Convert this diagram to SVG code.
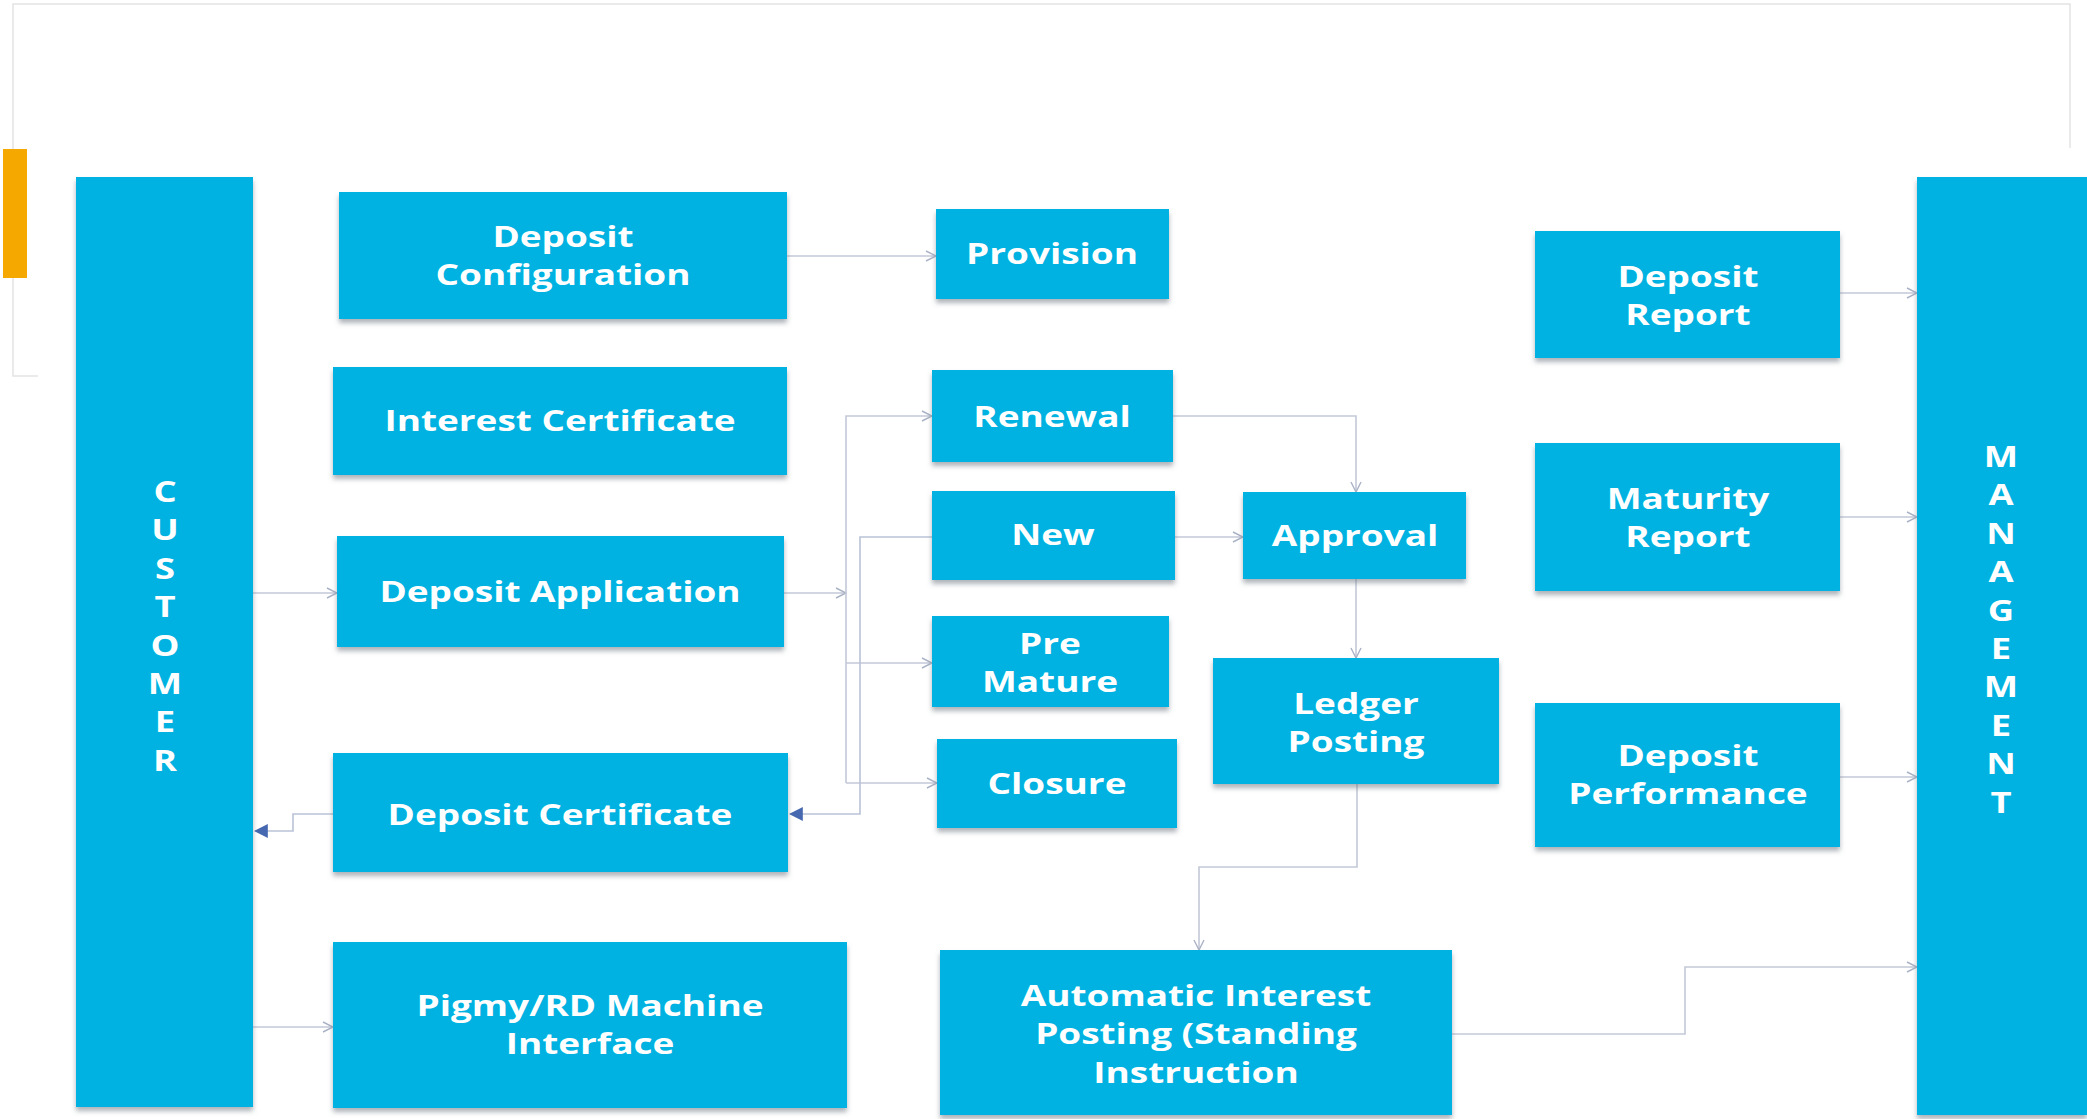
<svg xmlns="http://www.w3.org/2000/svg" width="2087" height="1119" viewBox="0 0 2087 1119">
<style>
.box{fill:#00B2E1;filter:url(#sh)}
.t{font-family:"Open Sans","Noto Sans","Liberation Sans",sans-serif;font-weight:700;font-size:28px;fill:#ffffff;text-anchor:middle}
.v{font-family:"Open Sans","Noto Sans","Liberation Sans",sans-serif;font-weight:700;font-size:28px;fill:#ffffff;text-anchor:middle}
.c{fill:none;stroke:#c3c9d8;stroke-width:1.6}
.cb{fill:none;stroke:#b9c2d6;stroke-width:1.6}
.frame{fill:none;stroke:#e3e3e3;stroke-width:1.5}
</style>
<defs>
<filter id="sh" x="-5%" y="-5%" width="110%" height="120%">
<feDropShadow dx="0" dy="4" stdDeviation="2.5" flood-color="#6d7480" flood-opacity="0.55"/>
</filter>
<marker id="oa" viewBox="0 0 12 12" refX="11" refY="6" markerWidth="12" markerHeight="12" markerUnits="userSpaceOnUse" orient="auto">
<path d="M1,1 L11,6 L1,11" fill="none" stroke="#aab2c6" stroke-width="1.4"/>
</marker>
<marker id="fa" viewBox="0 0 12 12" refX="11" refY="6" markerWidth="14" markerHeight="14" markerUnits="userSpaceOnUse" orient="auto">
<path d="M0,0 L12,6 L0,12 Z" fill="#4668b0"/>
</marker>
</defs>
<rect width="2087" height="1119" fill="#ffffff"/>
<g id="frame">
<path class="frame" d="M38,376 L13,376 L13,4 L2070,4 L2070,148"/>
<rect x="3" y="149" width="24" height="129" fill="#F5A800"/>
</g>
<g id="connectors">
<path class="c" d="M787,256 L936,256" marker-end="url(#oa)"/>
<path class="c" d="M253,593 L337,593" marker-end="url(#oa)"/>
<path class="c" d="M784,593 L846,593" marker-end="url(#oa)"/>
<path class="c" d="M846,783 L846,416 L932,416" marker-end="url(#oa)"/>
<path class="c" d="M846,663 L932,663" marker-end="url(#oa)"/>
<path class="c" d="M846,783 L937,783" marker-end="url(#oa)"/>
<path class="cb" d="M932,537 L860,537 L860,814 L790,814" marker-end="url(#fa)"/>
<path class="cb" d="M333,814 L293,814 L293,831 L255,831" marker-end="url(#fa)"/>
<path class="c" d="M253,1027 L333,1027" marker-end="url(#oa)"/>
<path class="c" d="M1173,416 L1356,416 L1356,492" marker-end="url(#oa)"/>
<path class="c" d="M1175,537 L1243,537" marker-end="url(#oa)"/>
<path class="c" d="M1356,579 L1356,658" marker-end="url(#oa)"/>
<path class="c" d="M1357,784 L1357,867 L1199,867 L1199,950" marker-end="url(#oa)"/>
<path class="c" d="M1452,1034 L1685,1034 L1685,967 L1917,967" marker-end="url(#oa)"/>
<path class="c" d="M1840,293 L1917,293" marker-end="url(#oa)"/>
<path class="c" d="M1840,517 L1917,517" marker-end="url(#oa)"/>
<path class="c" d="M1840,777 L1917,777" marker-end="url(#oa)"/>
</g>
<g id="customer">
<rect class="box" x="76" y="177" width="177" height="930"/>
<text class="v" transform="translate(165,0) scale(1.3,1)"><tspan x="0" y="502">C</tspan><tspan x="0" y="540.4">U</tspan><tspan x="0" y="578.8">S</tspan><tspan x="0" y="617.2">T</tspan><tspan x="0" y="655.6">O</tspan><tspan x="0" y="694">M</tspan><tspan x="0" y="732.4">E</tspan><tspan x="0" y="770.8">R</tspan></text>
</g>
<g id="management">
<rect class="box" x="1917" y="177" width="170" height="938"/>
<text class="v" transform="translate(2001,0) scale(1.3,1)"><tspan x="0" y="467">M</tspan><tspan x="0" y="505.4">A</tspan><tspan x="0" y="543.8">N</tspan><tspan x="0" y="582.2">A</tspan><tspan x="0" y="620.6">G</tspan><tspan x="0" y="659">E</tspan><tspan x="0" y="697.4">M</tspan><tspan x="0" y="735.8">E</tspan><tspan x="0" y="774.2">N</tspan><tspan x="0" y="812.6">T</tspan></text>
</g>
<g id="deposit-configuration">
<rect class="box" x="339" y="192" width="448" height="127"/>
<text class="t" transform="translate(563,0) scale(1.32,1)"><tspan x="0" y="247">Deposit</tspan><tspan x="0" y="285.5">Configuration</tspan></text>
</g>
<g id="provision">
<rect class="box" x="936" y="209" width="233" height="90"/>
<text class="t" transform="translate(1052,0) scale(1.32,1)" x="0" y="264">Provision</text>
</g>
<g id="interest-certificate">
<rect class="box" x="333" y="367" width="454" height="108"/>
<text class="t" transform="translate(560,0) scale(1.32,1)" x="0" y="431">Interest Certificate</text>
</g>
<g id="renewal">
<rect class="box" x="932" y="370" width="241" height="92"/>
<text class="t" transform="translate(1052,0) scale(1.32,1)" x="0" y="427">Renewal</text>
</g>
<g id="new">
<rect class="box" x="932" y="491" width="243" height="89"/>
<text class="t" transform="translate(1053,0) scale(1.32,1)" x="0" y="545">New</text>
</g>
<g id="approval">
<rect class="box" x="1243" y="492" width="223" height="87"/>
<text class="t" transform="translate(1355,0) scale(1.32,1)" x="0" y="546">Approval</text>
</g>
<g id="deposit-application">
<rect class="box" x="337" y="536" width="447" height="111"/>
<text class="t" transform="translate(560,0) scale(1.32,1)" x="0" y="602">Deposit Application</text>
</g>
<g id="pre-mature">
<rect class="box" x="932" y="616" width="237" height="91"/>
<text class="t" transform="translate(1050,0) scale(1.32,1)"><tspan x="0" y="654">Pre</tspan><tspan x="0" y="692.5">Mature</tspan></text>
</g>
<g id="closure">
<rect class="box" x="937" y="739" width="240" height="89"/>
<text class="t" transform="translate(1057,0) scale(1.32,1)" x="0" y="794">Closure</text>
</g>
<g id="ledger-posting">
<rect class="box" x="1213" y="658" width="286" height="126"/>
<text class="t" transform="translate(1356,0) scale(1.32,1)"><tspan x="0" y="714">Ledger</tspan><tspan x="0" y="752.5">Posting</tspan></text>
</g>
<g id="deposit-certificate">
<rect class="box" x="333" y="753" width="455" height="119"/>
<text class="t" transform="translate(560,0) scale(1.32,1)" x="0" y="825">Deposit Certificate</text>
</g>
<g id="pigmy">
<rect class="box" x="333" y="942" width="514" height="166"/>
<text class="t" transform="translate(590,0) scale(1.32,1)"><tspan x="0" y="1016">Pigmy/RD Machine</tspan><tspan x="0" y="1054.5">Interface</tspan></text>
</g>
<g id="automatic-interest">
<rect class="box" x="940" y="950" width="512" height="165"/>
<text class="t" transform="translate(1196,0) scale(1.32,1)"><tspan x="0" y="1006">Automatic Interest</tspan><tspan x="0" y="1044.5">Posting (Standing</tspan><tspan x="0" y="1083">Instruction</tspan></text>
</g>
<g id="deposit-report">
<rect class="box" x="1535" y="231" width="305" height="127"/>
<text class="t" transform="translate(1688,0) scale(1.32,1)"><tspan x="0" y="287">Deposit</tspan><tspan x="0" y="325.5">Report</tspan></text>
</g>
<g id="maturity-report">
<rect class="box" x="1535" y="443" width="305" height="148"/>
<text class="t" transform="translate(1688,0) scale(1.32,1)"><tspan x="0" y="509">Maturity</tspan><tspan x="0" y="547.5">Report</tspan></text>
</g>
<g id="deposit-performance">
<rect class="box" x="1535" y="703" width="305" height="144"/>
<text class="t" transform="translate(1688,0) scale(1.32,1)"><tspan x="0" y="766">Deposit</tspan><tspan x="0" y="804.5">Performance</tspan></text>
</g>
</svg>
